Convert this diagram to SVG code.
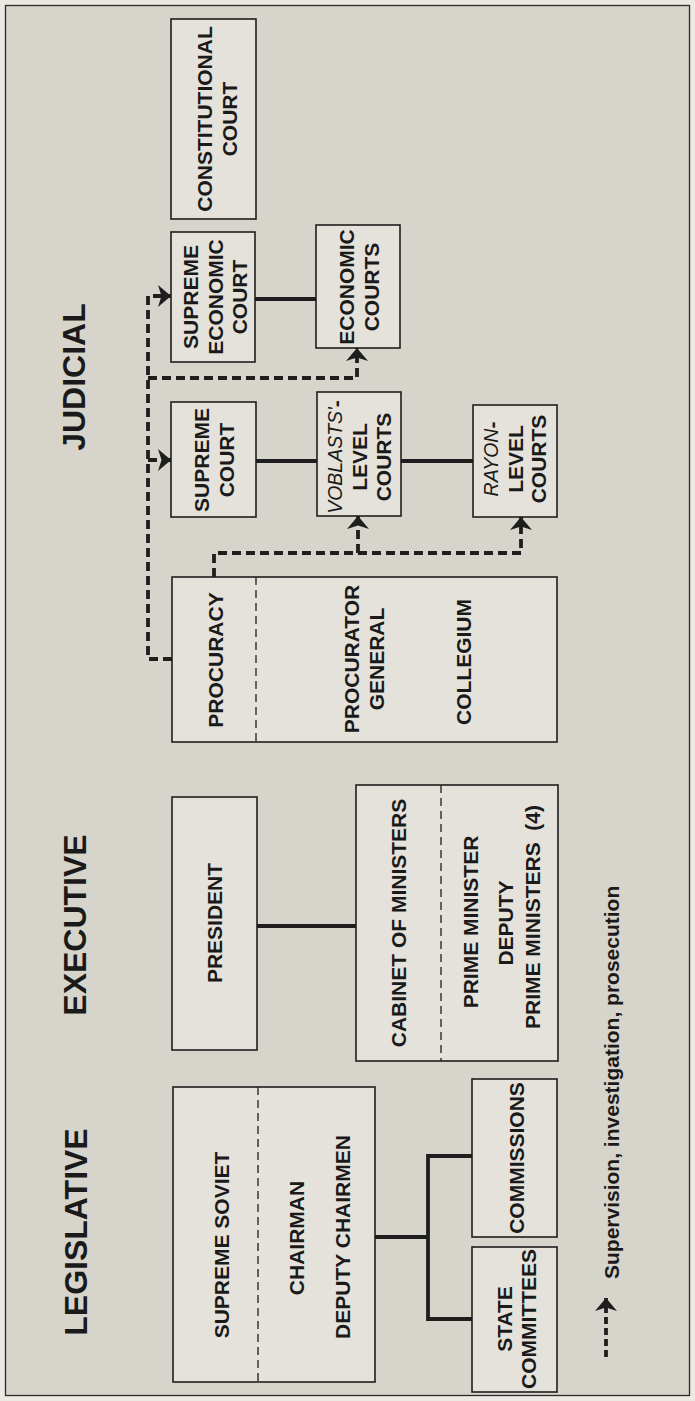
<svg xmlns="http://www.w3.org/2000/svg" width="695" height="1401" viewBox="0 0 695 1401">
<style>
.box{fill:#e5e2db;stroke:#1e1e1e;stroke-width:1.6}
.div{fill:none;stroke:#1e1e1e;stroke-width:1.3;stroke-dasharray:8 5}
.sol{fill:none;stroke:#1e1e1e;stroke-width:3.8}
.dash{fill:none;stroke:#1e1e1e;stroke-width:3.8;stroke-dasharray:9 5}
.t{font-family:"Liberation Sans",Arial,Helvetica,sans-serif;font-weight:bold;font-size:21px;fill:#1a1a1a;text-anchor:middle;dominant-baseline:central}
.h{font-family:"Liberation Sans",Arial,Helvetica,sans-serif;font-weight:bold;font-size:32px;fill:#1a1a1a;text-anchor:middle;dominant-baseline:central}
.lg{font-family:"Liberation Sans",Arial,Helvetica,sans-serif;font-weight:bold;font-size:21px;fill:#1a1a1a;text-anchor:start;dominant-baseline:central}
.it{font-style:italic;font-weight:normal;font-size:19.5px}
</style>
<defs>
<marker id="ah" viewBox="0 0 13 22" refX="13" refY="11" markerWidth="13" markerHeight="22" markerUnits="userSpaceOnUse" orient="auto">
<path d="M0,0 L13,11 L0,22 L3.5,11 Z" fill="#1e1e1e"/>
</marker>
</defs>
<rect x="0" y="0" width="695" height="1401" fill="#ebe9e4"/>
<rect id="frame" x="5.5" y="5.5" width="684" height="1390" fill="#d7d4cb" stroke="#2a2a2a" stroke-width="1.3"/>

<g id="headings">
<text class="h" transform="translate(74,377) rotate(-90)">JUDICIAL</text>
<text class="h" transform="translate(75,925) rotate(-90)">EXECUTIVE</text>
<text class="h" transform="translate(76,1232) rotate(-90)">LEGISLATIVE</text>
</g>

<g id="connectors">
<path class="sol" d="M255,299 H316"/>
<path class="sol" d="M256,461 H317 M401,461 H473"/>
<path class="sol" d="M257,926 H356"/>
<path class="sol" d="M375,1237 H428 M472,1156 H428 V1319 H472"/>
<path class="dash" d="M172,659 H148 V296 H171" marker-end="url(#ah)"/>
<path class="dash" d="M148,460 H171" marker-end="url(#ah)"/>
<path class="dash" d="M148,378 H357 V348" marker-end="url(#ah)"/>
<path class="dash" d="M214,577 V553 H521 V517" marker-end="url(#ah)"/>
<path class="dash" d="M358,553 V516" marker-end="url(#ah)"/>
</g>

<g id="constitutional-court">
<rect class="box" x="171" y="19" width="85" height="200"/>
<text class="t" transform="translate(204,119) rotate(-90)"><tspan x="0" y="0">CONSTITUTIONAL</tspan><tspan x="0" y="25">COURT</tspan></text>
</g>
<g id="supreme-economic-court">
<rect class="box" x="171" y="232" width="84" height="130"/>
<text class="t" transform="translate(190,297) rotate(-90)"><tspan x="0" y="0">SUPREME</tspan><tspan x="0" y="24.5">ECONOMIC</tspan><tspan x="0" y="49">COURT</tspan></text>
</g>
<g id="economic-courts">
<rect class="box" x="316" y="225" width="84" height="123"/>
<text class="t" transform="translate(346,287) rotate(-90)"><tspan x="0" y="0">ECONOMIC</tspan><tspan x="0" y="25">COURTS</tspan></text>
</g>
<g id="supreme-court">
<rect class="box" x="171" y="402" width="85" height="115"/>
<text class="t" transform="translate(201,460) rotate(-90)"><tspan x="0" y="0">SUPREME</tspan><tspan x="0" y="25">COURT</tspan></text>
</g>
<g id="voblasts-courts">
<rect class="box" x="317" y="392" width="84" height="124"/>
<text class="t" transform="translate(335,457) rotate(-90)"><tspan x="0" y="0"><tspan class="it">VOBLASTS'</tspan>-</tspan><tspan x="0" y="24">LEVEL</tspan><tspan x="0" y="48">COURTS</tspan></text>
</g>
<g id="rayon-courts">
<rect class="box" x="473" y="405" width="84" height="112"/>
<text class="t" transform="translate(491,459) rotate(-90)"><tspan x="0" y="0"><tspan class="it">RAYON</tspan>-</tspan><tspan x="0" y="23.5">LEVEL</tspan><tspan x="0" y="47">COURTS</tspan></text>
</g>
<g id="procuracy">
<rect class="box" x="172" y="577" width="385" height="165"/>
<path class="div" d="M256,577 V742"/>
<text class="t" transform="translate(215,660) rotate(-90)">PROCURACY</text>
<text class="t" transform="translate(351,659) rotate(-90)"><tspan x="0" y="0">PROCURATOR</tspan><tspan x="0" y="25">GENERAL</tspan></text>
<text class="t" transform="translate(463,662) rotate(-90)">COLLEGIUM</text>
</g>
<g id="president">
<rect class="box" x="172" y="797" width="85" height="253"/>
<text class="t" transform="translate(214,923) rotate(-90)">PRESIDENT</text>
</g>
<g id="cabinet">
<rect class="box" x="356" y="785" width="202" height="276"/>
<path class="div" d="M441,785 V1061"/>
<text class="t" transform="translate(398,923) rotate(-90)">CABINET OF MINISTERS</text>
<text class="t" transform="translate(470,922) rotate(-90)">PRIME MINISTER</text>
<text class="t" transform="translate(505,923) rotate(-90)"><tspan x="0" y="0">DEPUTY</tspan><tspan x="6" y="27">PRIME MINISTERS&#160; (4)</tspan></text>
</g>
<g id="supreme-soviet">
<rect class="box" x="173" y="1087" width="202" height="295"/>
<path class="div" d="M258,1087 V1382"/>
<text class="t" transform="translate(221,1245) rotate(-90)">SUPREME SOVIET</text>
<text class="t" transform="translate(296,1238) rotate(-90)">CHAIRMAN</text>
<text class="t" transform="translate(342,1237) rotate(-90)">DEPUTY CHAIRMEN</text>
</g>
<g id="commissions">
<rect class="box" x="472" y="1079" width="85" height="158"/>
<text class="t" transform="translate(516,1158) rotate(-90)">COMMISSIONS</text>
</g>
<g id="state-committees">
<rect class="box" x="472" y="1247" width="85" height="145"/>
<text class="t" transform="translate(504,1319) rotate(-90)"><tspan x="0" y="0">STATE</tspan><tspan x="0" y="24">COMMITTEES</tspan></text>
</g>
<g id="legend">
<path class="dash" style="stroke-dasharray:7 4" d="M606,1357 V1298" marker-end="url(#ah)"/>
<text class="lg" transform="translate(611,1279) rotate(-90)">Supervision, investigation, prosecution</text>
</g>
</svg>
